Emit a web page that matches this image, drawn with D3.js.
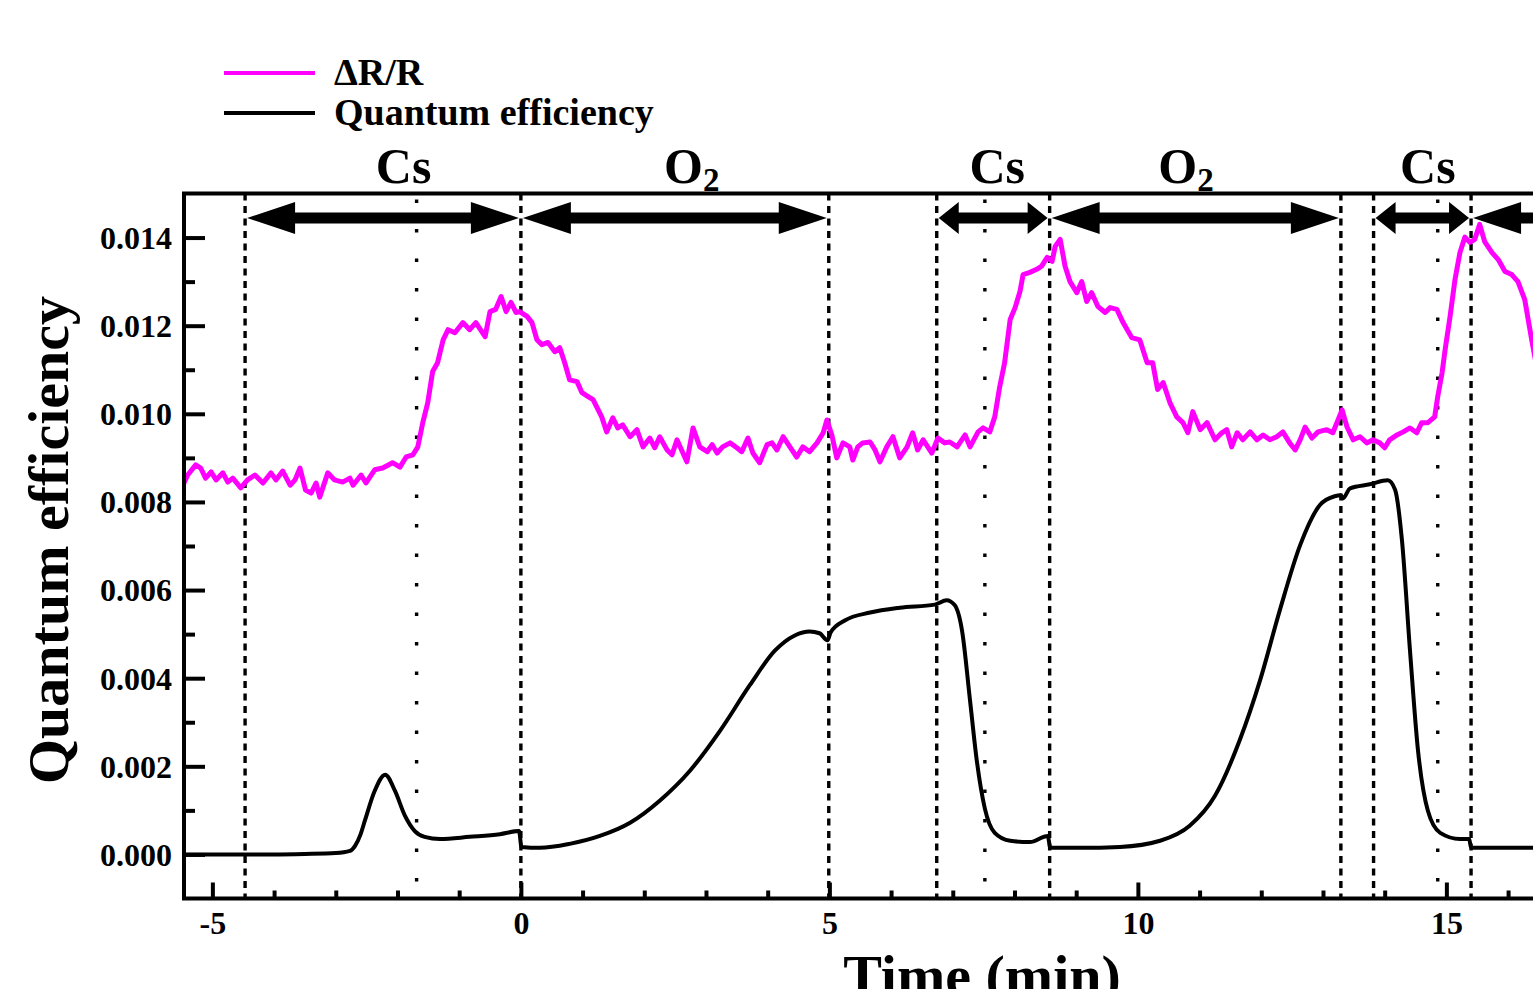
<!DOCTYPE html>
<html>
<head>
<meta charset="utf-8">
<script src="https://cdn.jsdelivr.net/npm/d3@7"></script>
<title>QE and dR/R vs time</title>
<style>
    body { margin: 0; background: #fff; }
    svg { display: block; font-family: "Liberation Serif", "Times New Roman", serif; font-weight: bold; }
</style>
</head>
<body>
<svg id="chart" width="1533" height="989"></svg>

<script>
    // dR/R trace (shown on the QE scale), time in min
    const reflT = [-5.46, -5.40, -5.27, -5.19, -5.11, -5.02, -4.94, -4.83, -4.75, -4.67, -4.54, -4.43, -4.31, -4.18, -4.05, -3.97,
        -3.86, -3.74, -3.66, -3.58, -3.49, -3.40, -3.32, -3.26, -3.13, -3.02, -2.89, -2.77, -2.72, -2.59, -2.51, -2.37, -2.24,
        -2.08, -1.96, -1.86, -1.75, -1.67, -1.59, -1.51, -1.43, -1.35, -1.26, -1.18, -1.07, -0.94, -0.83, -0.73, -0.58, -0.50,
        -0.41, -0.32, -0.24, -0.16, -0.08, -0.02, 0.10, 0.18, 0.26, 0.34, 0.44, 0.55, 0.63, 0.71, 0.79, 0.91, 0.99, 1.09, 1.17,
        1.31, 1.39, 1.49, 1.57, 1.65, 1.77, 1.88, 1.98, 2.09, 2.17, 2.25, 2.37, 2.45, 2.53, 2.69, 2.79, 2.90, 3.02, 3.10, 3.18,
        3.27, 3.39, 3.50, 3.58, 3.68, 3.76, 3.87, 3.99, 4.07, 4.15, 4.25, 4.36, 4.47, 4.57, 4.68, 4.80, 4.90, 4.96, 5.04, 5.12,
        5.22, 5.33, 5.38, 5.46, 5.54, 5.66, 5.74, 5.82, 5.93, 6.03, 6.14, 6.26, 6.35, 6.43, 6.52, 6.66, 6.76, 6.87, 6.95, 7.07,
        7.20, 7.28, 7.41, 7.49, 7.60, 7.68, 7.76, 7.84, 7.93, 8.01, 8.09, 8.14, 8.25, 8.36, 8.44, 8.53, 8.61, 8.66, 8.74, 8.82,
        8.90, 9.01, 9.09, 9.17, 9.25, 9.35, 9.47, 9.55, 9.66, 9.76, 9.90, 10.03, 10.15, 10.24, 10.32, 10.41, 10.52, 10.63, 10.73,
        10.81, 10.89, 11.01, 11.12, 11.25, 11.36, 11.44, 11.52, 11.61, 11.70, 11.82, 11.93, 12.03, 12.14, 12.25, 12.35, 12.46,
        12.55, 12.63, 12.71, 12.82, 12.92, 13.06, 13.16, 13.31, 13.39, 13.49, 13.60, 13.71, 13.81, 13.92, 14.00, 14.08, 14.20,
        14.30, 14.41, 14.52, 14.60, 14.70, 14.81, 14.86, 14.93, 14.98, 15.06, 15.14, 15.22, 15.30, 15.38, 15.46, 15.54, 15.62,
        15.74, 15.84, 15.95, 16.06, 16.16, 16.27, 16.39, 16.50];
    const reflV = [0.00843, 0.00861, 0.00884, 0.00877, 0.00854, 0.00868, 0.00850, 0.00866, 0.00845, 0.00854, 0.00832, 0.00850,
        0.00861, 0.00843, 0.00866, 0.00850, 0.00870, 0.00838, 0.00850, 0.00877, 0.00827, 0.00820, 0.00843, 0.00811, 0.00866,
        0.00850, 0.00845, 0.00854, 0.00838, 0.00861, 0.00843, 0.00873, 0.00877, 0.00889, 0.00879, 0.00902, 0.00907, 0.00925,
        0.00980, 0.01025, 0.01096, 0.01116, 0.01168, 0.01191, 0.01184, 0.01207, 0.01191, 0.01207, 0.01175, 0.01232, 0.01237,
        0.01266, 0.01232, 0.01253, 0.01230, 0.01232, 0.01221, 0.01207, 0.01168, 0.01157, 0.01162, 0.01141, 0.01150, 0.01116,
        0.01077, 0.01073, 0.01048, 0.01039, 0.01032, 0.00993, 0.00959, 0.00991, 0.00968, 0.00975, 0.00948, 0.00964, 0.00925,
        0.00945, 0.00923, 0.00948, 0.00918, 0.00907, 0.00941, 0.00891, 0.00968, 0.00925, 0.00914, 0.00930, 0.00911, 0.00925,
        0.00934, 0.00923, 0.00914, 0.00945, 0.00911, 0.00889, 0.00930, 0.00934, 0.00918, 0.00948, 0.00925, 0.00902, 0.00925,
        0.00914, 0.00934, 0.00957, 0.00986, 0.00952, 0.00900, 0.00934, 0.00925, 0.00895, 0.00925, 0.00934, 0.00936, 0.00918,
        0.00891, 0.00925, 0.00948, 0.00900, 0.00925, 0.00957, 0.00918, 0.00941, 0.00911, 0.00945, 0.00934, 0.00936, 0.00925,
        0.00952, 0.00925, 0.00959, 0.00968, 0.00959, 0.00993, 0.01061, 0.01116, 0.01214, 0.01241, 0.01278, 0.01316, 0.01321,
        0.01328, 0.01335, 0.01355, 0.01346, 0.01380, 0.01396, 0.01335, 0.01300, 0.01275, 0.01300, 0.01255, 0.01275, 0.01244,
        0.01230, 0.01241, 0.01237, 0.01207, 0.01173, 0.01168, 0.01116, 0.01116, 0.01055, 0.01071, 0.01025, 0.00993, 0.00980,
        0.00957, 0.01005, 0.00964, 0.00980, 0.00941, 0.00957, 0.00964, 0.00925, 0.00957, 0.00941, 0.00959, 0.00941, 0.00952,
        0.00941, 0.00948, 0.00959, 0.00934, 0.00918, 0.00941, 0.00970, 0.00945, 0.00959, 0.00964, 0.00957, 0.01009, 0.00970,
        0.00941, 0.00948, 0.00934, 0.00941, 0.00934, 0.00923, 0.00941, 0.00952, 0.00959, 0.00968, 0.00957, 0.00980, 0.00980,
        0.00993, 0.01039, 0.01093, 0.01146, 0.01221, 0.01305, 0.01366, 0.01401, 0.01389, 0.01396, 0.01430, 0.01391, 0.01366,
        0.01350, 0.01323, 0.01316, 0.01300, 0.01259, 0.01162, 0.01080];

    // quantum efficiency
    const qeT = [-5.46, -4.0, -3.5, -3.0, -2.77, -2.69, -2.60, -2.53, -2.37, -2.20, -2.04, -1.88, -1.72, -1.56, -1.31, -0.83,
        -0.34, -0.03, 0.01, 0.31, 0.79, 1.28, 1.77, 2.25, 2.74, 3.23, 3.71, 4.12, 4.44, 4.68, 4.84, 4.97, 5.02, 5.25, 5.66,
        6.14, 6.71, 6.90, 7.03, 7.15, 7.28, 7.39, 7.52, 7.68, 7.93, 8.25, 8.54, 8.58, 9.06, 9.71, 10.36, 10.84, 11.25, 11.65,
        11.98, 12.30, 12.63, 12.95, 13.19, 13.29, 13.32, 13.44, 13.76, 14.05, 14.17, 14.28, 14.41, 14.54, 14.70, 14.90, 15.22,
        15.37, 15.40, 16.50];
    const qeV = [0.00000, 0.00000, 0.00001, 0.00003, 0.00008, 0.00019, 0.00045, 0.00076, 0.00144, 0.00181, 0.00144, 0.00088,
        0.00053, 0.00040, 0.00035, 0.00040, 0.00046, 0.00053, 0.00017, 0.00015, 0.00024, 0.00042, 0.00072, 0.00122, 0.00190,
        0.00281, 0.00384, 0.00463, 0.00497, 0.00506, 0.00502, 0.00486, 0.00504, 0.00531, 0.00549, 0.00560, 0.00567, 0.00577,
        0.00566, 0.00508, 0.00349, 0.00212, 0.00104, 0.00049, 0.00031, 0.00028, 0.00042, 0.00015, 0.00015, 0.00017, 0.00031,
        0.00065, 0.00133, 0.00259, 0.00395, 0.00554, 0.00702, 0.00793, 0.00813, 0.00815, 0.00808, 0.00831, 0.00840, 0.00849,
        0.00827, 0.00713, 0.00463, 0.00236, 0.00099, 0.00049, 0.00035, 0.00035, 0.00015, 0.00015];

    // process steps
    const dashedMarks = [-4.47, 0, 4.99, 6.74, 8.57, 13.29, 13.82, 15.40];
    const dottedMarks = [-1.69, 7.52, 14.86];
    const arrowStart = [-4.47, 0, 6.74, 8.57, 13.82, 15.40];
    const arrowEnd = [0, 4.99, 8.57, 13.29, 15.40, 21];
    const phaseNames = ["Cs", "O", "Cs", "O", "Cs"];
    const phaseSub = ["", "2", "", "2", ""];
    const phaseAt = [-1.9, 2.77, 7.72, 10.78, 14.7];

    const xMajor = [-5, 0, 5, 10, 15];
    const xMinor = d3.range(-5, 21, 1).filter(d => d % 5 !== 0);
    const yMajor = [0, 0.002, 0.004, 0.006, 0.008, 0.010, 0.012, 0.014];
    const yMinor = [0.001, 0.003, 0.005, 0.007, 0.009, 0.011, 0.013];

    const plotLeft = 184, plotTop = 193.5, plotBottom = 898.5;
    const pxPerMin = 61.7;

    const x = d3.scaleLinear()
        .domain([-5.46, 21])
        .range([plotLeft, plotLeft + pxPerMin * (21 + 5.46)]);
    const y = d3.scaleLinear()
        .domain([-0.001, 0.015])
        .range([plotBottom, plotTop]);

    const svg = d3.select("#chart");
    const plotRight = x.range()[1];

    svg.append("defs").append("clipPath").attr("id", "plotClip")
        .append("rect")
        .attr("x", plotLeft).attr("y", plotTop)
        .attr("width", plotRight - plotLeft).attr("height", plotBottom - plotTop);

    // vertical step markers
    svg.append("g").selectAll("line")
        .data(dashedMarks)
        .enter().append("line")
        .attr("x1", d => x(d)).attr("x2", d => x(d))
        .attr("y1", plotTop).attr("y2", plotBottom)
        .attr("stroke", "#000").attr("stroke-width", 3.4)
        .attr("stroke-dasharray", "7,5.5");

    svg.append("g").selectAll("line")
        .data(dottedMarks)
        .enter().append("line")
        .attr("x1", d => x(d)).attr("x2", d => x(d))
        .attr("y1", plotTop + 6).attr("y2", plotBottom)
        .attr("stroke", "#000").attr("stroke-width", 3.4)
        .attr("stroke-dasharray", "3.5,26");

    // curves
    const plot = svg.append("g").attr("clip-path", "url(#plotClip)");

    const reflLine = d3.line()
        .x(i => x(reflT[i]))
        .y(i => y(reflV[i]));
    plot.append("path")
        .attr("d", reflLine(d3.range(reflT.length)))
        .attr("fill", "none")
        .attr("stroke", "#ff00ff")
        .attr("stroke-width", 5)
        .attr("stroke-linejoin", "round");

    const qeLine = d3.line()
        .x(i => x(qeT[i]))
        .y(i => y(qeV[i]))
        .curve(d3.curveMonotoneX);
    plot.append("path")
        .attr("d", qeLine(d3.range(qeT.length)))
        .attr("fill", "none")
        .attr("stroke", "#000")
        .attr("stroke-width", 4)
        .attr("stroke-linejoin", "round");

    // double arrows for each step (short steps get small heads)
    const ay = 218, st = 5.5;
    function arrowPath(xa, xb) {
        const hl = (xb - xa) > 200 ? 48 : 20;
        const hh = 16;
        return "M" + xa + "," + ay +
            "L" + (xa + hl) + "," + (ay - hh) + "L" + (xa + hl) + "," + (ay - st) +
            "L" + (xb - hl) + "," + (ay - st) + "L" + (xb - hl) + "," + (ay - hh) +
            "L" + xb + "," + ay +
            "L" + (xb - hl) + "," + (ay + hh) + "L" + (xb - hl) + "," + (ay + st) +
            "L" + (xa + hl) + "," + (ay + st) + "L" + (xa + hl) + "," + (ay + hh) + "Z";
    }
    svg.append("g").selectAll("path")
        .data(arrowStart)
        .enter().append("path")
        .attr("d", (d, i) => arrowPath(x(d) + 2, x(arrowEnd[i]) - 2))
        .attr("fill", "#000");

    // step names above the frame
    const names = svg.append("g").selectAll("text")
        .data(phaseNames)
        .enter().append("text")
        .attr("x", (d, i) => x(phaseAt[i]))
        .attr("y", 183)
        .attr("text-anchor", "middle")
        .attr("font-size", 50);
    names.append("tspan").text(d => d);
    names.append("tspan")
        .attr("font-size", 33)
        .attr("dy", 8)
        .text((d, i) => phaseSub[i]);

    // axes with inward ticks
    const axisY = svg.append("g")
        .attr("transform", "translate(" + plotLeft + ",0)")
        .call(d3.axisLeft(y).tickValues(yMajor).tickFormat(d3.format(".3f"))
            .tickSizeInner(-21).tickSizeOuter(0).tickPadding(12));
    axisY.call(g => g.select(".domain").remove());
    axisY.selectAll("line").attr("stroke-width", 4);
    axisY.selectAll("text").attr("font-size", 32).attr("fill", "#000")
        .attr("font-family", "Liberation Serif").attr("dy", "0.34em");

    const axisYm = svg.append("g")
        .attr("transform", "translate(" + plotLeft + ",0)")
        .call(d3.axisLeft(y).tickValues(yMinor).tickFormat("").tickSizeInner(-11).tickSizeOuter(0));
    axisYm.call(g => g.select(".domain").remove());
    axisYm.selectAll("line").attr("stroke-width", 4);

    const axisX = svg.append("g")
        .attr("transform", "translate(0," + plotBottom + ")")
        .call(d3.axisBottom(x).tickValues(xMajor).tickFormat(d => String(d))
            .tickSizeInner(-16).tickSizeOuter(0).tickPadding(13));
    axisX.call(g => g.select(".domain").remove());
    axisX.selectAll("line").attr("stroke-width", 4);
    axisX.selectAll("text").attr("font-size", 32).attr("fill", "#000")
        .attr("font-family", "Liberation Serif").attr("dy", "0.71em");

    const axisXm = svg.append("g")
        .attr("transform", "translate(0," + plotBottom + ")")
        .call(d3.axisBottom(x).tickValues(xMinor).tickFormat("").tickSizeInner(-8).tickSizeOuter(0));
    axisXm.call(g => g.select(".domain").remove());
    axisXm.selectAll("line").attr("stroke-width", 4);

    // frame
    svg.append("path")
        .attr("d", "M" + plotRight + "," + plotTop + "H" + plotLeft + "V" + plotBottom + "H" + plotRight)
        .attr("fill", "none")
        .attr("stroke", "#000")
        .attr("stroke-width", 4);

    // axis titles
    svg.append("text")
        .attr("transform", "translate(68,540) rotate(-90)")
        .attr("text-anchor", "middle")
        .attr("font-size", 58)
        .text("Quantum efficiency");
    svg.append("text")
        .attr("x", 982).attr("y", 995)
        .attr("text-anchor", "middle")
        .attr("font-size", 58)
        .text("Time (min)");

    // legend
    const legendItems = ["\u0394R/R", "Quantum efficiency"];
    const legendColors = ["#ff00ff", "#000"];
    const legend = svg.append("g").selectAll("g")
        .data(legendItems)
        .enter().append("g")
        .attr("transform", (d, i) => "translate(224," + (73 + i * 40) + ")");
    legend.append("line")
        .attr("x1", 0).attr("x2", 91)
        .attr("stroke", (d, i) => legendColors[i])
        .attr("stroke-width", 4);
    legend.append("text")
        .attr("x", 110).attr("y", 12)
        .attr("font-size", 38)
        .text(d => d);
</script>
</body>
</html>
